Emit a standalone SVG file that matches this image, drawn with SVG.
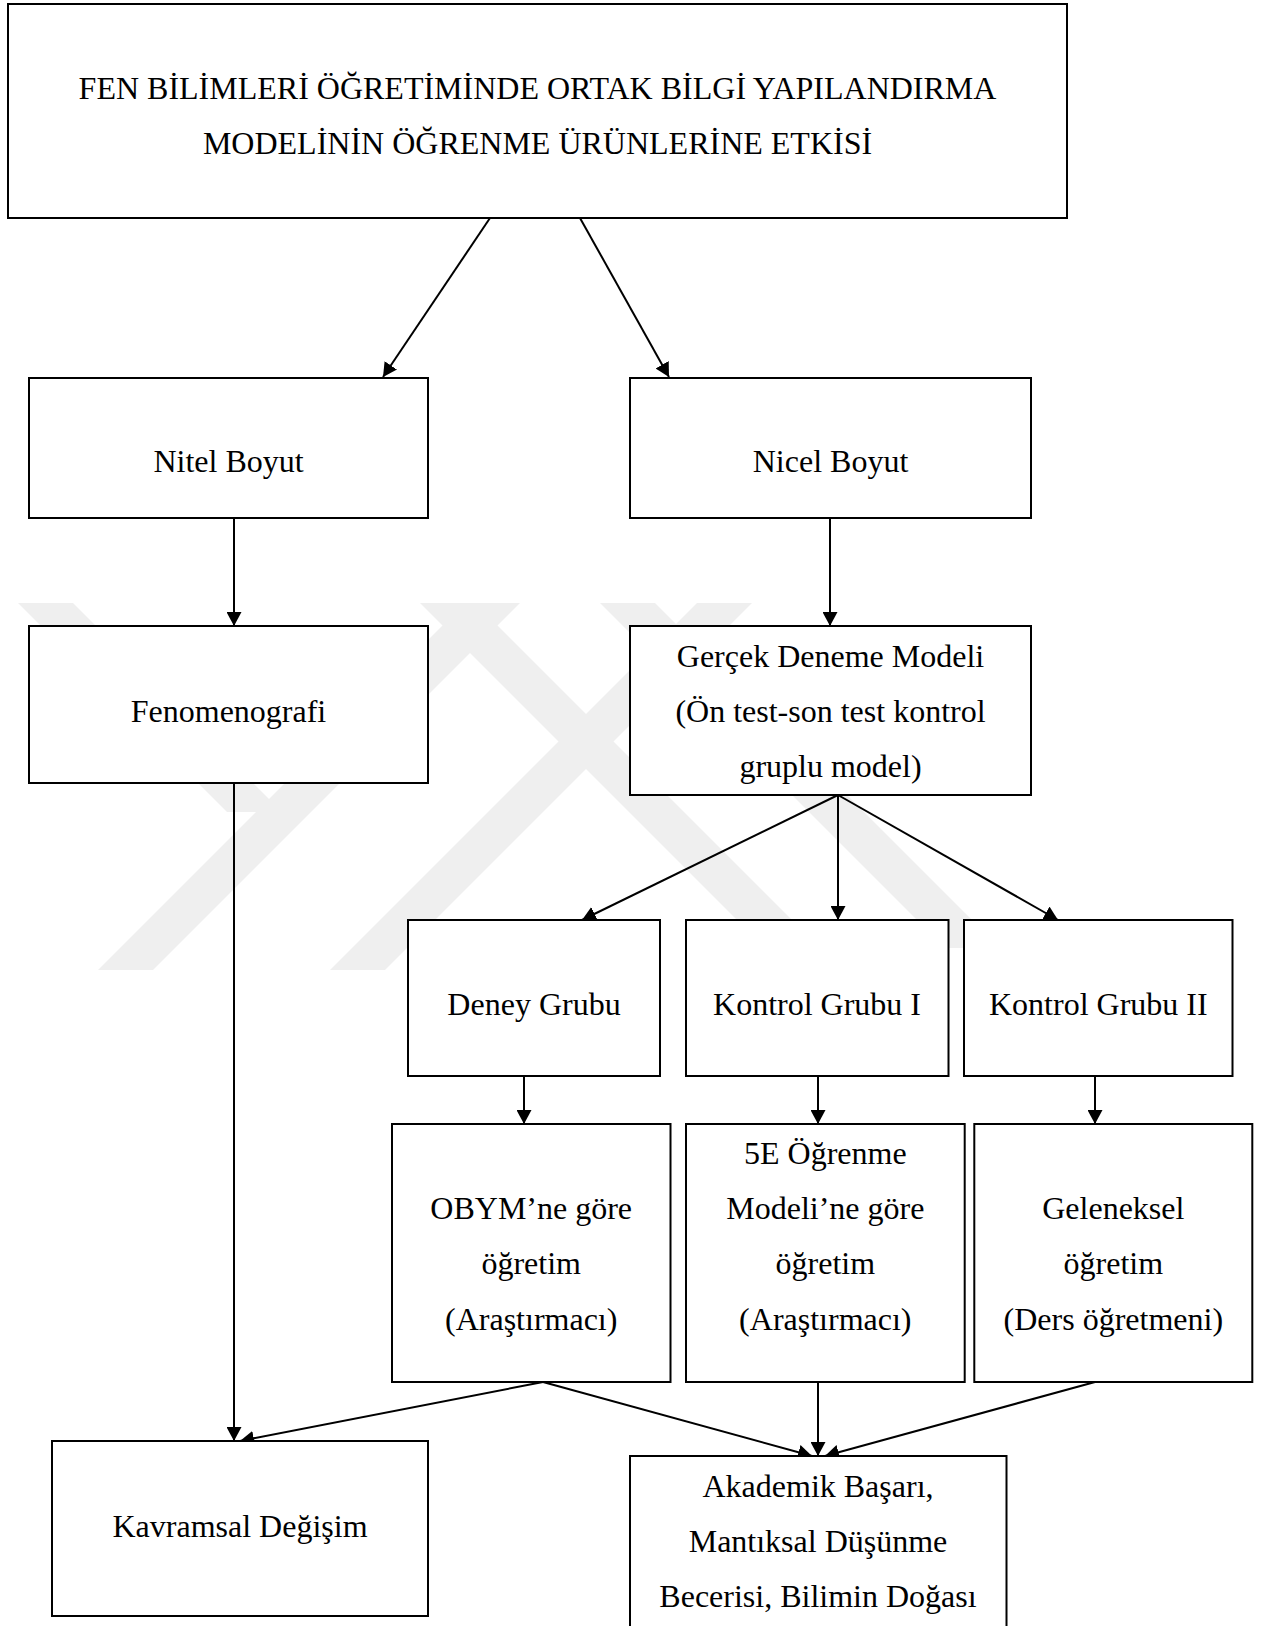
<svg xmlns="http://www.w3.org/2000/svg" width="1269" height="1626" viewBox="0 0 1269 1626">
<defs>
<style>
.box{fill:#fff;stroke:#000;stroke-width:2}
.lbl{font-family:"Liberation Serif","Times New Roman",serif;font-size:32px;fill:#000;text-anchor:middle}
.con{fill:none;stroke:#000;stroke-width:2}
.wm{fill:#efefef}
</style>
<marker id="ah" markerUnits="userSpaceOnUse" markerWidth="15" markerHeight="15" refX="14" refY="7.5" orient="auto">
<path d="M0,0 L14,7.5 L0,15 Z" fill="#000"/>
</marker>
</defs>
<rect width="1269" height="1626" fill="#fff"/>
<g id="watermark">
<polygon class="wm" points="18,603 73,603 282,812 227,812"/>
<polygon class="wm" points="98,970 153,970 520,603 465,603"/>
<polygon class="wm" points="420,603 475,603 842,970 787,970"/>
<polygon class="wm" points="330,970 385,970 752,603 697,603"/>
<polygon class="wm" points="600,603 655,603 1000,948 945,948"/>
</g>
<g id="connectors">
<line class="con" x1="490" y1="218" x2="383" y2="377" marker-end="url(#ah)"/>
<line class="con" x1="580" y1="218" x2="669" y2="377" marker-end="url(#ah)"/>
<line class="con" x1="234" y1="518" x2="234" y2="626" marker-end="url(#ah)"/>
<line class="con" x1="830" y1="518" x2="830" y2="626" marker-end="url(#ah)"/>
<line class="con" x1="838" y1="795" x2="582" y2="920" marker-end="url(#ah)"/>
<line class="con" x1="838" y1="795" x2="838" y2="920" marker-end="url(#ah)"/>
<line class="con" x1="838" y1="795" x2="1058" y2="920" marker-end="url(#ah)"/>
<line class="con" x1="524" y1="1076" x2="524" y2="1124" marker-end="url(#ah)"/>
<line class="con" x1="818" y1="1076" x2="818" y2="1124" marker-end="url(#ah)"/>
<line class="con" x1="1095" y1="1076" x2="1095" y2="1124" marker-end="url(#ah)"/>
<line class="con" x1="234" y1="783" x2="234" y2="1441" marker-end="url(#ah)"/>
<line class="con" x1="543" y1="1382" x2="240" y2="1441" marker-end="url(#ah)"/>
<line class="con" x1="543" y1="1382" x2="812" y2="1456" marker-end="url(#ah)"/>
<line class="con" x1="818" y1="1382" x2="818" y2="1456" marker-end="url(#ah)"/>
<line class="con" x1="1095" y1="1382" x2="825" y2="1456" marker-end="url(#ah)"/>
</g>
<g id="n-title">
<rect class="box" x="8" y="4" width="1059" height="214"/>
<text class="lbl" x="537.5" y="99">FEN BİLİMLERİ ÖĞRETİMİNDE ORTAK BİLGİ YAPILANDIRMA</text>
<text class="lbl" x="537.5" y="154">MODELİNİN ÖĞRENME ÜRÜNLERİNE ETKİSİ</text>
</g>
<g id="n-nitel">
<rect class="box" x="29" y="378" width="399" height="140"/>
<text class="lbl" x="228.5" y="472">Nitel Boyut</text>
</g>
<g id="n-nicel">
<rect class="box" x="630" y="378" width="401" height="140"/>
<text class="lbl" x="830.5" y="472">Nicel Boyut</text>
</g>
<g id="n-fenomenografi">
<rect class="box" x="29" y="626" width="399" height="157"/>
<text class="lbl" x="228.5" y="722">Fenomenografi</text>
</g>
<g id="n-gercek">
<rect class="box" x="630" y="626" width="401" height="169"/>
<text class="lbl" x="830.5" y="667">Gerçek Deneme Modeli</text>
<text class="lbl" x="830.5" y="722">(Ön test-son test kontrol</text>
<text class="lbl" x="830.5" y="777">gruplu model)</text>
</g>
<g id="n-deney">
<rect class="box" x="408" y="920" width="252" height="156"/>
<text class="lbl" x="534" y="1015">Deney Grubu</text>
</g>
<g id="n-kontrol1">
<rect class="box" x="686" y="920" width="262.5" height="156"/>
<text class="lbl" x="817" y="1015">Kontrol Grubu I</text>
</g>
<g id="n-kontrol2">
<rect class="box" x="964" y="920" width="268.5" height="156"/>
<text class="lbl" x="1098.3" y="1015">Kontrol Grubu II</text>
</g>
<g id="n-obym">
<rect class="box" x="392" y="1124" width="278.5" height="258"/>
<text class="lbl" x="531.2" y="1218.5">OBYM’ne göre</text>
<text class="lbl" x="531.2" y="1274">öğretim</text>
<text class="lbl" x="531.2" y="1330">(Araştırmacı)</text>
</g>
<g id="n-5e">
<rect class="box" x="686" y="1124" width="278.7" height="258"/>
<text class="lbl" x="825.3" y="1163.5">5E Öğrenme</text>
<text class="lbl" x="825.3" y="1218.5">Modeli’ne göre</text>
<text class="lbl" x="825.3" y="1274">öğretim</text>
<text class="lbl" x="825.3" y="1330">(Araştırmacı)</text>
</g>
<g id="n-geleneksel">
<rect class="box" x="974.3" y="1124" width="278" height="258"/>
<text class="lbl" x="1113.3" y="1218.5">Geleneksel</text>
<text class="lbl" x="1113.3" y="1274">öğretim</text>
<text class="lbl" x="1113.3" y="1330">(Ders öğretmeni)</text>
</g>
<g id="n-kavramsal">
<rect class="box" x="52" y="1441" width="376" height="175"/>
<text class="lbl" x="240" y="1537">Kavramsal Değişim</text>
</g>
<g id="n-akademik">
<rect class="box" x="630" y="1456" width="376.5" height="200"/>
<text class="lbl" x="818" y="1497">Akademik Başarı,</text>
<text class="lbl" x="818" y="1552">Mantıksal Düşünme</text>
<text class="lbl" x="818" y="1607">Becerisi, Bilimin Doğası</text>
</g>
</svg>
